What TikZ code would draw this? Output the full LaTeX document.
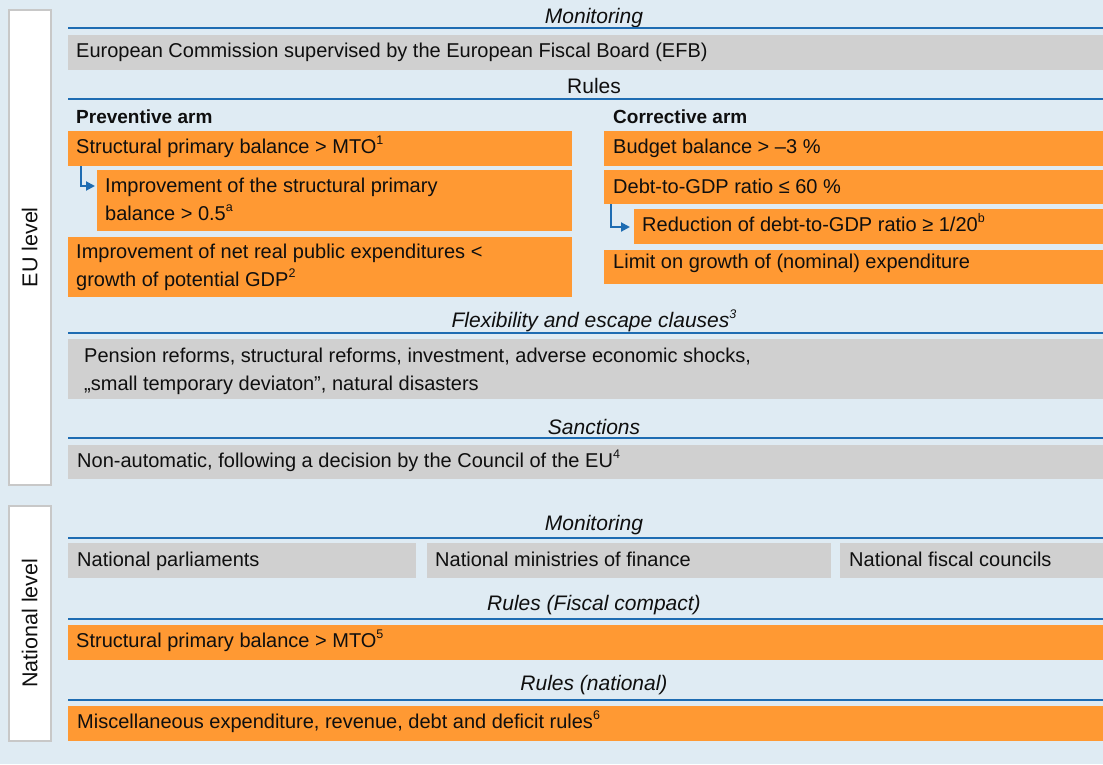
\documentclass[tikz,border=0pt]{standalone}
\usepackage{fontspec}
\setmainfont{Liberation Sans}
\usetikzlibrary{arrows.meta}

\definecolor{bg}{RGB}{223,235,243}
\definecolor{sep}{RGB}{30,108,178}
\definecolor{og}{RGB}{255,153,51}
\definecolor{gr}{RGB}{208,208,208}
\definecolor{frm}{RGB}{200,200,200}
\definecolor{ink}{RGB}{15,15,15}

% small raised footnote marks
\newcommand{\fnmark}[1]{\raisebox{0.42em}{\fontsize{12.5}{14}\selectfont #1}}

\tikzset{
  obox/.style={fill=og, draw=none, inner sep=0pt, anchor=north west},
  gbox/.style={fill=gr, draw=none, inner sep=0pt, anchor=north west},
  lvl/.style={fill=white, draw=frm, line width=1.5pt, inner sep=0pt, anchor=north west, minimum width=42pt},
  % single-line text sits on its baseline; two-line text is placed by its last baseline
  txt/.style={anchor=base west, inner sep=0pt, align=left, text=ink,
    font=\fontsize{20}{28}\selectfont},
  head/.style={anchor=base west, inner sep=0pt, text=ink,
    font=\fontsize{19}{24}\selectfont\bfseries},
  ttl/.style={anchor=base, inner sep=0pt, text=ink,
    font=\fontsize{21}{24}\selectfont\itshape},
  lvltxt/.style={rotate=90, inner sep=0pt, text=ink,
    font=\fontsize{21.5}{24}\selectfont},
  sepline/.style={draw=sep, line width=1.6pt},
  conn/.style={draw=sep, line width=2pt, -{Triangle[length=9pt,width=9pt]}}
}

\begin{document}
\begin{tikzpicture}[x=1pt,y=-1pt]
\useasboundingbox (0,0) rectangle (1103,764);
\fill[bg] (0,0) rectangle (1103,764);

% level frames
\node[lvl, minimum height=475pt] (eu) at (8,9) {};
\node[lvltxt] (eut) at (eu.center) {EU level};
\node[lvl, minimum height=235pt] (nat) at (8,505) {};
\node[lvltxt] (natt) at (nat.center) {National level};

% ---------- EU level ----------
% Monitoring
\node[ttl] (t1) at (594,23) {Monitoring};
\draw[sepline] (68,28) -- (1103,28);
\node[gbox, minimum width=1035pt, minimum height=35pt] (efb) at (68,35) {};
\node[txt] (efbt) at (76,57) {European Commission supervised by the European Fiscal Board (EFB)};

% Rules
\node[ttl, font=\fontsize{21}{24}\selectfont] (t2) at (594,93) {Rules};
\draw[sepline] (68,99) -- (1103,99);
\node[head] (prev) at (76,123) {Preventive arm};
\node[head] (corr) at (613,123) {Corrective arm};

% preventive arm
\node[obox, minimum width=504pt, minimum height=35pt] (p1) at (68,131) {};
\node[txt] (p1t) at (76,153) {Structural primary balance > MTO\fnmark{1}};
\node[obox, minimum width=475pt, minimum height=61pt] (p2) at (97,170) {};
\node[txt] (p2t) at (105,220) {Improvement of the structural primary\\balance > 0.5\fnmark{a}};
\node[obox, minimum width=504pt, minimum height=60pt] (p3) at (68,237) {};
\node[txt] (p3t) at (76,286) {Improvement of net real public expenditures <\\growth of potential GDP\fnmark{2}};
\draw[conn] ([xshift=12.5pt]p1.south west) |- ([xshift=-2pt,yshift=-16pt]p2.north west);

% corrective arm
\node[obox, minimum width=499pt, minimum height=35pt] (c1) at (604,131) {};
\node[txt] (c1t) at (613,153) {Budget balance > –3 \%};
\node[obox, minimum width=499pt, minimum height=34pt] (c2) at (604,170) {};
\node[txt] (c2t) at (613,193) {Debt-to-GDP ratio ≤ 60 \%};
\node[obox, minimum width=469pt, minimum height=35pt] (c3) at (634,209) {};
\node[txt] (c3t) at (642,231) {Reduction of debt-to-GDP ratio ≥ 1/20\fnmark{b}};
\node[obox, minimum width=499pt, minimum height=34pt] (c4) at (604,250) {};
\node[txt] (c4t) at (613,268) {Limit on growth of (nominal) expenditure};
\draw[conn] ([xshift=7pt]c2.south west) |- ([xshift=-4pt,yshift=-18pt]c3.north west);

% Flexibility
\node[ttl] (t3) at (594,327) {Flexibility and escape clauses\fnmark{3}};
\draw[sepline] (68,333) -- (1103,333);
\node[gbox, minimum width=1035pt, minimum height=60pt] (flex) at (68,339) {};
\node[txt] (flext) at (84,390) {Pension reforms, structural reforms, investment, adverse economic shocks,\\„small temporary deviaton”, natural disasters};

% Sanctions
\node[ttl] (t4) at (594,434) {Sanctions};
\draw[sepline] (68,438) -- (1103,438);
\node[gbox, minimum width=1035pt, minimum height=34pt] (sanc) at (68,445) {};
\node[txt] (sanct) at (77,467) {Non-automatic, following a decision by the Council of the EU\fnmark{4}};

% ---------- National level ----------
\node[ttl] (t5) at (594,530) {Monitoring};
\draw[sepline] (68,538) -- (1103,538);
\node[gbox, minimum width=348pt, minimum height=35pt] (n1) at (68,543) {};
\node[txt] (n1t) at (77,566) {National parliaments};
\node[gbox, minimum width=404pt, minimum height=35pt] (n2) at (427,543) {};
\node[txt] (n2t) at (435,566) {National ministries of finance};
\node[gbox, minimum width=263pt, minimum height=35pt] (n3) at (840,543) {};
\node[txt] (n3t) at (849,566) {National fiscal councils};

\node[ttl] (t6) at (594,610) {Rules (Fiscal compact)};
\draw[sepline] (68,619) -- (1103,619);
\node[obox, minimum width=1035pt, minimum height=35pt] (fc) at (68,625) {};
\node[txt] (fct) at (76,647) {Structural primary balance > MTO\fnmark{5}};

\node[ttl] (t7) at (594,690) {Rules (national)};
\draw[sepline] (68,700) -- (1103,700);
\node[obox, minimum width=1035pt, minimum height=35pt] (nr) at (68,706) {};
\node[txt] (nrt) at (77,728) {Miscellaneous expenditure, revenue, debt and deficit rules\fnmark{6}};
\end{tikzpicture}
\end{document}
